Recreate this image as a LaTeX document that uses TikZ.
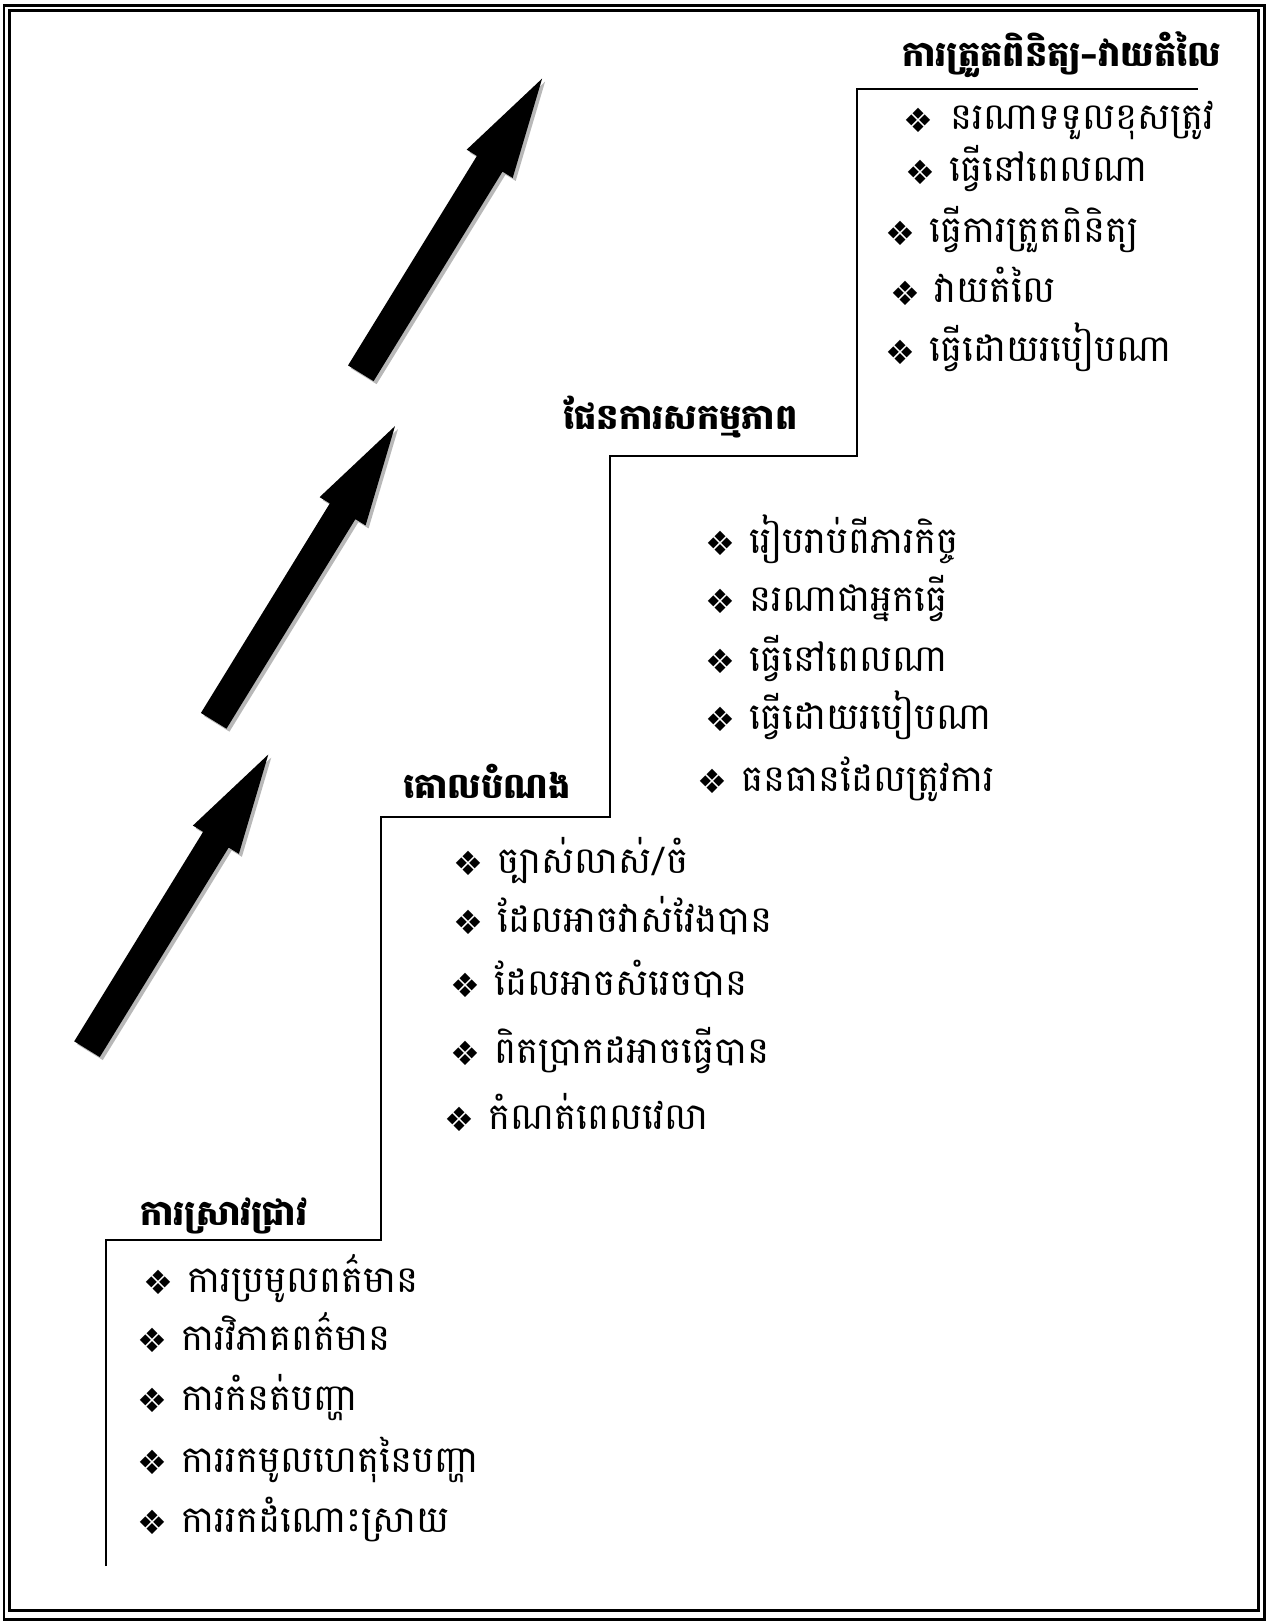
\documentclass[tikz,border=0pt]{standalone}
\usepackage{fontspec}
\newfontfamily\khmer[Script=Khmer]{Battambang}
\newfontfamily\symfont{DejaVu Sans}
\usetikzlibrary{positioning}
\tikzset{
  % the double frame round the page
  frameline/.style = {line width=1.7pt},
  % the thin staircase line
  stairline/.style = {line width=0.9pt},
  % heading of a step (bold)
  stephead/.style  = {anchor=base west, inner sep=0pt, font=\khmer\bfseries\fontsize{20}{24}\selectfont},
  % a bullet item under a step
  stepitem/.style  = {anchor=base west, inner sep=0pt, font=\khmer\fontsize{21}{25}\selectfont},
  % big arrows and their grey shadow
  arrowfill/.style  = {fill=black},
  shadowfill/.style = {fill=black!28},
  pics/steparrow/.style = {code={
    \fill[#1] (0,-15) -- (246,-15) -- (246,-27) -- (346,0) -- (246,27) -- (246,15) -- (0,15) -- cycle;
  }},
}
\newcommand{\bul}{\makebox[25pt][l]{\raisebox{-1.2pt}{\symfont\fontsize{19}{19}\selectfont ❖}}}
\newcommand{\hdash}{{\symfont\bfseries –}}

\begin{document}
\begin{tikzpicture}[x=0.02cm, y=-0.02cm]
  \useasboundingbox (0,0) rectangle (1269,1621);
  % frame
  \draw[frameline] (4,5.5) rectangle (1264,1619.5);
  \draw[frameline] (9.5,10.5) rectangle (1258.5,1610.5);

  % staircase
  \draw[stairline] (106,1566) |- (381,1240) |- (610,817) |- (857,456) |- (1198,89);

  % arrows (shadow first)
  \pic[rotate=58.4] at (363.8,376.3) {steparrow=shadowfill};
  \pic[rotate=58.4] at (360.8,373.3) {steparrow=arrowfill};
  \pic[rotate=58.4] at (216.7,723.8) {steparrow=shadowfill};
  \pic[rotate=58.4] at (213.7,720.8) {steparrow=arrowfill};
  \pic[rotate=58.4] at (90,1052.2) {steparrow=shadowfill};
  \pic[rotate=58.4] at (87,1049.2) {steparrow=arrowfill};

  % step 4: check and evaluate
  \node[stephead] (hCheck) at (902,67) {ការត្រួតពិនិត្យ\hdash វាយតំលៃ};
  \node[stepitem] (c1) at (903,130) {\bul\hspace{2pt}នរណាទទួលខុសត្រូវ};
  \node[stepitem] (c2) at (905,182) {\bul ធ្វើនៅពេលណា};
  \node[stepitem] (c3) at (885,243) {\bul ធ្វើការត្រួតពិនិត្យ};
  \node[stepitem] (c4) at (890,303) {\bul វាយតំលៃ};
  \node[stepitem] (c5) at (885,362) {\bul ធ្វើដោយរបៀបណា};

  % step 3: action plan
  \node[stephead] (hPlan) at (563,430) {ផែនការសកម្មភាព};
  \node[stepitem] (p1) at (705,553) {\bul រៀបរាប់ពីភារកិច្ច};
  \node[stepitem] (p2) at (705,611) {\bul នរណាជាអ្នកធ្វើ};
  \node[stepitem] (p3) at (705,671) {\bul ធ្វើនៅពេលណា};
  \node[stepitem] (p4) at (705,729) {\bul ធ្វើដោយរបៀបណា};
  \node[stepitem] (p5) at (697,791) {\bul ធនធានដែលត្រូវការ};

  % step 2: goal
  \node[stephead] (hGoal) at (403,798) {គោលបំណង};
  \node[stepitem] (g1) at (453,873) {\bul ច្បាស់លាស់/ចំ};
  \node[stepitem] (g2) at (453,932) {\bul ដែលអាចវាស់វែងបាន};
  \node[stepitem] (g3) at (450,995) {\bul ដែលអាចសំរេចបាន};
  \node[stepitem] (g4) at (450,1063) {\bul ពិតប្រាកដអាចធ្វើបាន};
  \node[stepitem] (g5) at (444,1129) {\bul កំណត់ពេលវេលា};

  % step 1: research
  \node[stephead] (hResearch) at (140,1225) {ការស្រាវជ្រាវ};
  \node[stepitem] (r1) at (143,1292) {\bul ការប្រមូលពត៌មាន};
  \node[stepitem] (r2) at (137,1350) {\bul ការវិភាគពត៌មាន};
  \node[stepitem] (r3) at (137,1410) {\bul ការកំនត់បញ្ហា};
  \node[stepitem] (r4) at (137,1472) {\bul ការរកមូលហេតុនៃបញ្ហា};
  \node[stepitem] (r5) at (137,1532) {\bul ការរកដំណោះស្រាយ};
\end{tikzpicture}
\end{document}
